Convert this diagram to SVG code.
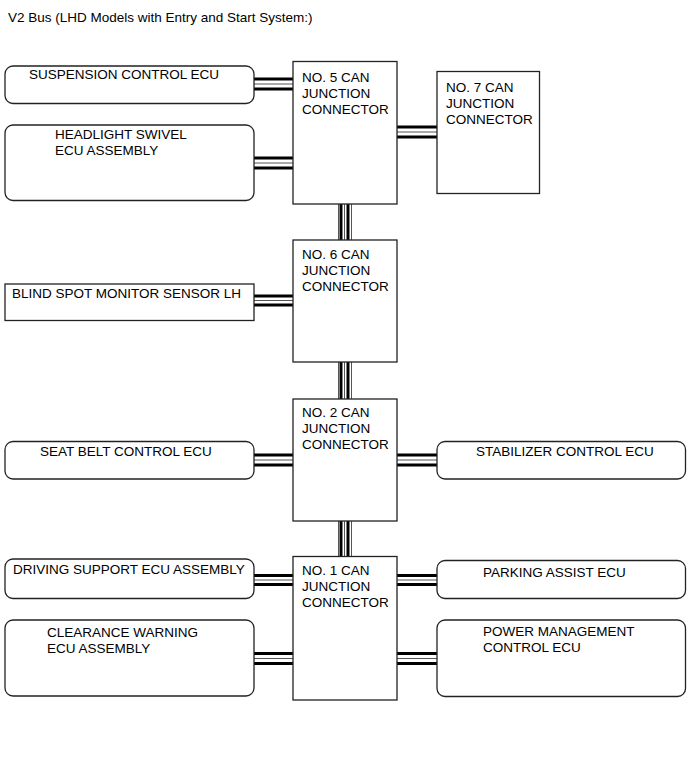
<svg xmlns="http://www.w3.org/2000/svg" width="690" height="757" viewBox="0 0 690 757">
<style>
text{font-family:"Liberation Sans",Arial,sans-serif;font-size:13.5px;fill:#000}
.box{fill:#fff;stroke:#222;stroke-width:1.3}
.bk{stroke:#000;stroke-width:3;fill:none}
.th{stroke:#555;stroke-width:1;fill:none}
</style>
<rect width="690" height="757" fill="#fff"/>
<text x="8" y="22">V2 Bus (LHD Models with Entry and Start System:)</text>
<g id="connectors">
<path class="bk" d="M254 79H293M254 89H293"/><path class="th" d="M254 84H293"/>
<path class="bk" d="M254 158H293M254 168H293"/><path class="th" d="M254 163H293"/>
<path class="bk" d="M397 127H437M397 137H437"/><path class="th" d="M397 132H437"/>
<path class="bk" d="M341 204V240M348 204V240"/><path class="th" d="M338.5 204V240M344.5 204V240M351.5 204V240"/>
<path class="bk" d="M254 296H293M254 305H293"/><path class="th" d="M254 300.5H293"/>
<path class="bk" d="M341 362V399M348 362V399"/><path class="th" d="M338.5 362V399M344.5 362V399M351.5 362V399"/>
<path class="bk" d="M254 455H293M254 465H293"/><path class="th" d="M254 460H293"/>
<path class="bk" d="M397 455H437M397 465H437"/><path class="th" d="M397 460H437"/>
<path class="bk" d="M341 521V556M348 521V556"/><path class="th" d="M338.5 521V556M344.5 521V556M351.5 521V556"/>
<path class="bk" d="M254 575.5H293M254 584.5H293"/><path class="th" d="M254 580H293"/>
<path class="bk" d="M397 575.5H437M397 584.5H437"/><path class="th" d="M397 580H437"/>
<path class="bk" d="M254 653.5H293M254 663.5H293"/><path class="th" d="M254 658.5H293"/>
<path class="bk" d="M397 653.5H437M397 663.5H437"/><path class="th" d="M397 658.5H437"/>
</g>
<g id="suspension"><rect class="box" x="5" y="66" width="249" height="37.5" rx="8"/><text x="29" y="79">SUSPENSION CONTROL ECU</text></g>
<g id="headlight"><rect class="box" x="5" y="125" width="249" height="75.5" rx="8"/><text x="55" y="139">HEADLIGHT SWIVEL</text><text x="55" y="155">ECU ASSEMBLY</text></g>
<g id="jc5"><rect class="box" x="293" y="61.5" width="104" height="142.5"/><text x="302" y="82">NO. 5 CAN</text><text x="302" y="98">JUNCTION</text><text x="302" y="114">CONNECTOR</text></g>
<g id="jc7"><rect class="box" x="437" y="71.5" width="102.5" height="122"/><text x="446" y="92">NO. 7 CAN</text><text x="446" y="108">JUNCTION</text><text x="446" y="124">CONNECTOR</text></g>
<g id="jc6"><rect class="box" x="293" y="240" width="104" height="122"/><text x="302" y="259">NO. 6 CAN</text><text x="302" y="275">JUNCTION</text><text x="302" y="291">CONNECTOR</text></g>
<g id="blindspot"><rect class="box" x="5" y="284" width="249" height="36.5"/><text x="12" y="298">BLIND SPOT MONITOR SENSOR LH</text></g>
<g id="jc2"><rect class="box" x="293" y="399" width="104" height="122"/><text x="302" y="417">NO. 2 CAN</text><text x="302" y="433">JUNCTION</text><text x="302" y="449">CONNECTOR</text></g>
<g id="seatbelt"><rect class="box" x="5" y="441.5" width="249" height="37.5" rx="8"/><text x="40" y="456">SEAT BELT CONTROL ECU</text></g>
<g id="stabilizer"><rect class="box" x="437" y="441.5" width="248.5" height="37.5" rx="8"/><text x="476" y="456">STABILIZER CONTROL ECU</text></g>
<g id="jc1"><rect class="box" x="293" y="556.5" width="104" height="143.5"/><text x="302" y="575">NO. 1 CAN</text><text x="302" y="591">JUNCTION</text><text x="302" y="607">CONNECTOR</text></g>
<g id="drivingsupport"><rect class="box" x="5" y="559" width="249" height="39.5" rx="8"/><text x="13" y="574">DRIVING SUPPORT ECU ASSEMBLY</text></g>
<g id="parking"><rect class="box" x="437" y="560.5" width="248.5" height="38" rx="8"/><text x="483" y="577">PARKING ASSIST ECU</text></g>
<g id="clearance"><rect class="box" x="5" y="620" width="249" height="76" rx="8"/><text x="47" y="637">CLEARANCE WARNING</text><text x="47" y="653">ECU ASSEMBLY</text></g>
<g id="power"><rect class="box" x="437" y="620" width="248.5" height="76.5" rx="8"/><text x="483" y="636">POWER MANAGEMENT</text><text x="483" y="652">CONTROL ECU</text></g>
</svg>
